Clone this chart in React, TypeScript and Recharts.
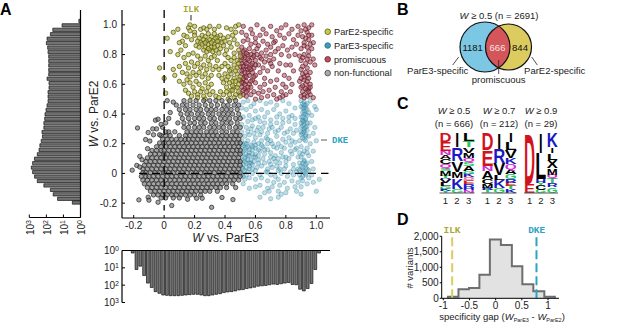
import React from "react";
import {
  Area,
  Bar,
  BarChart,
  ComposedChart,
  ReferenceLine,
  Scatter,
  ScatterChart,
  XAxis,
  YAxis,
} from "recharts";

// panel A, x,y pairs
const yellowPairs = [
  .17,1,.09,.97,.13,.93,.02,.91,.04,.82,.06,.95,.16,.98,.2,.99,.17,.96,.2,.95,.15,.92,.12,.89,.1,.88,.11,.83,.14,.86,.18,.9,
  .24,.97,.26,.98,.28,.97,.3,.99,.33,.97,.36,.99,.41,.98,.44,.97,.47,.99,.49,1,-.03,.71,0,.64,.01,.54,
  .2,.93,.23,.91,.25,.93,.27,.92,.29,.94,.31,.92,.33,.94,.35,.92,.37,.93,.39,.91,.42,.92,.45,.93,.47,.95,
  .22,.89,.24,.88,.26,.9,.28,.89,.3,.9,.32,.89,.34,.91,.36,.89,.38,.88,.4,.89,.43,.88,.46,.9,.48,.87,
  .21,.86,.23,.85,.25,.87,.27,.85,.29,.87,.31,.85,.33,.87,.35,.86,.37,.84,.39,.86,.41,.83,.44,.85,
  .26,.83,.28,.82,.3,.83,.32,.82,.34,.83,.36,.81,.4,.8,.46,.81,.49,.83,.29,.84,.33,.85,.27,.88,.31,.88,.35,.89,
  .09,.8,.13,.78,.16,.8,.19,.81,.22,.79,.24,.77,.27,.79,.29,.76,.31,.78,.33,.79,.35,.76,.42,.78,.44,.76,.46,.78,.48,.76,.5,.79,
  .06,.7,.07,.66,.1,.72,.12,.68,.14,.74,.16,.71,.18,.75,.2,.72,.22,.74,.24,.71,.26,.73,.28,.7,.3,.73,.32,.7,.34,.72,.36,.7,.38,.72,.4,.74,.42,.72,.44,.7,.46,.73,.48,.71,.49,.74,
  .15,.67,.17,.65,.19,.68,.21,.66,.23,.68,.25,.65,.27,.67,.29,.64,.31,.66,.36,.66,.38,.64,.4,.67,.42,.65,.44,.67,.46,.64,.48,.67,.5,.65,
  .43,.69,.47,.69,.45,.62,.41,.63,.49,.63,.44,.56,.46,.58,.48,.58,
  .1,.62,.13,.6,.15,.63,.17,.61,.19,.58,.21,.62,.23,.6,.25,.57,.27,.61,.29,.58,.31,.6,.39,.61,.41,.58,.43,.61,.45,.59,.47,.62,.49,.6,
  .14,.56,.16,.54,.18,.52,.2,.55,.22,.53,.24,.55,.26,.52,.28,.55,.3,.53,.32,.55,.34,.52,.37,.55,.39,.53,.41,.55,.43,.53,.45,.56,.47,.53,.49,.55,.5,.52,.46,.51,.42,.5,.36,.51,.27,.5,.22,.51,
];

const redPairs = [
  .52,.99,.57,.97,.61,1,.65,.97,.7,.99,.74,.96,.77,.98,.8,1,.84,.97,.88,.99,.92,1,.95,.98,.97,1,.9,.96,.94,.95,.97,.93,.91,.92,.88,.93,
  .51,.95,.54,.93,.58,.94,.6,.91,.63,.93,.67,.94,.71,.92,.73,.89,.76,.93,.79,.91,.82,.94,.85,.9,.87,.87,.92,.88,.95,.9,.98,.88,
  .52,.89,.55,.9,.57,.87,.6,.88,.62,.86,.65,.89,.68,.87,.7,.85,.72,.88,.75,.84,.78,.86,.81,.83,.84,.85,.9,.84,.94,.85,.97,.84,
  .51,.85,.53,.83,.56,.84,.59,.82,.61,.84,.64,.81,.67,.83,.7,.8,.73,.82,.77,.8,.82,.79,.86,.8,.89,.79,.92,.8,.95,.79,.98,.77,
  .5,.81,.52,.79,.55,.8,.58,.78,.6,.76,.63,.78,.66,.75,.69,.76,.72,.77,.76,.74,.8,.73,.9,.76,.93,.74,.96,.75,.99,.73,
  .5,.76,.53,.75,.56,.76,.54,.72,.57,.73,.59,.71,.62,.73,.65,.71,.68,.69,.71,.72,.75,.69,.79,.66,.83,.73,.85,.69,.9,.7,.94,.71,
  .5,.72,.52,.7,.55,.68,.51,.67,.53,.65,.56,.66,.58,.68,.6,.66,.63,.68,.66,.64,.7,.62,.74,.63,.78,.6,.82,.64,.91,.67,.94,.66,.96,.68,
  .5,.63,.52,.61,.54,.62,.56,.6,.58,.63,.6,.61,.63,.58,.66,.6,.69,.56,.73,.58,.77,.55,.8,.58,.84,.6,.89,.62,.92,.63,.95,.64,
  .51,.58,.53,.57,.55,.56,.57,.58,.59,.55,.62,.54,.65,.55,.68,.52,.72,.53,.76,.51,.8,.53,.83,.55,.9,.58,.93,.6,.96,.6,.91,.55,.94,.56,
  .5,.54,.52,.53,.54,.52,.57,.53,.6,.5,.64,.51,.74,.5,.78,.52,.9,.52,.92,.51,.94,.52,.96,.53,.95,.57,.98,.51,
  .51,.74,.52,.72,.54,.74,.51,.69,.53,.68,.55,.7,.57,.7,.52,.64,.54,.65,.51,.61,.53,.6,.55,.58,.52,.56,.54,.55,.57,.62,.59,.65,.56,.71,.58,.74,.6,.73,
  .53,.78,.55,.77,.51,.78,.52,.82,.54,.81,.57,.8,.59,.79,.61,.8,.64,.77,.67,.79,.7,.74,
  .91,.72,.93,.68,.92,.65,.94,.62,.91,.59,.93,.57,.95,.55,.92,.53,.9,.64,.96,.58,
  .93,.97,.95,.93,.93,.91,.96,.87,.92,.86,.95,.82,.91,.78,.94,.77,
];

const tealPairs = [
  .52,.48,.55,.49,.59,.47,.63,.49,.67,.47,.7,.48,.74,.46,.78,.49,.82,.47,.86,.44,.9,.49,.92,.48,.94,.47,.96,.49,.99,.45,1,.43,
  .51,.44,.54,.43,.57,.45,.6,.42,.64,.43,.68,.41,.72,.43,.76,.4,.8,.42,.84,.39,.9,.45,.92,.44,.94,.43,.91,.41,.93,.4,.95,.41,.97,.39,
  .52,.38,.56,.39,.6,.37,.63,.35,.66,.38,.7,.36,.74,.34,.78,.37,.82,.35,.86,.33,.9,.38,.91,.36,.93,.36,.92,.33,.94,.32,.9,.31,.96,.34,.99,.31,
  .51,.33,.54,.31,.58,.32,.61,.29,.65,.31,.69,.3,.73,.28,.77,.31,.81,.28,.85,.27,.9,.28,.92,.29,.93,.26,.91,.24,.95,.25,.98,.27,1,.22,
  .51,.28,.53,.25,.56,.26,.6,.24,.63,.26,.67,.24,.7,.22,.74,.25,.78,.23,.82,.24,.86,.21,.89,.22,.93,.22,.96,.2,
  .51,.22,.53,.2,.55,.22,.57,.19,.59,.21,.62,.2,.65,.18,.68,.2,.72,.18,.75,.2,.79,.17,.83,.19,.86,.16,.9,.18,.94,.17,.98,.15,
  .51,.18,.52,.15,.54,.17,.56,.14,.58,.16,.6,.13,.63,.15,.66,.13,.7,.14,.73,.12,.77,.14,.8,.11,.84,.13,.88,.11,.91,.13,.95,.12,
  .51,.13,.53,.11,.55,.12,.57,.09,.59,.11,.62,.09,.65,.1,.69,.08,.72,.1,.76,.07,.8,.08,.85,.06,.89,.07,.92,.09,.94,.07,.97,.08,
  .51,.09,.52,.06,.54,.07,.56,.05,.58,.06,.61,.04,.64,.05,.68,.03,.71,.04,.75,.02,.79,.03,.83,.01,.88,.03,.9,.05,.91,.02,.93,.04,.95,.02,.98,.03,
  .51,.04,.53,.02,.55,.01,.58,0,.6,.02,.63,-.01,.67,.01,.7,-.01,.73,-.02,.77,0,.81,-.02,.85,-.01,.89,-.01,.91,-.02,.93,0,.95,-.03,.97,-.01,
  .51,-.01,.53,-.04,.56,-.03,.6,-.04,.64,-.03,.68,-.05,.72,-.06,.75,-.04,.79,-.06,.84,-.05,.88,-.06,.91,-.05,.94,-.07,.98,-.06,1.02,-.04,
  .52,-.07,.56,-.1,.6,-.09,.63,-.08,.68,-.1,.71,-.09,.76,-.08,.81,-.1,.86,-.09,.9,-.09,.69,-.12,.66,-.13,.75,-.12,.8,-.13,.87,-.12,
  .63,-.16,.7,-.17,.75,-.16,.77,-.14,1,-.12,.9,-.14,
  // dark column near x = 0.92 and band along x = 0.55
  .91,.47,.93,.46,.92,.42,.94,.39,.91,.38,.93,.37,.92,.35,.94,.34,.9,.34,.91,.32,.93,.31,.92,.3,.94,.29,.91,.27,.93,.25,.92,.23,.9,.26,.92,.4,.93,.44,.92,.46,.91,.44,.91,.35,.92,.28,
  .92,.08,.93,.06,.91,.04,.92,.01,.93,-.01,.9,-.03,.89,.02,.94,.03,.91,.07,.9,.11,.92,.15,.94,.14,
  .52,.19,.54,.2,.55,.18,.53,.16,.56,.16,.58,.18,.6,.17,.62,.16,.54,.13,.56,.12,.58,.13,.6,.11,.62,.12,.53,.1,.55,.09,.57,.07,.59,.08,.62,.07,.53,.08,.52,.03,.54,.04,.56,.03,.58,.03,.52,-.02,.54,-.01,.56,.07,.6,.19,.64,.19,.66,.16,.68,.16,.7,.11,.66,.07,.7,.06,.73,.08,.75,.1,.78,.11,.82,.1,
  .55,.28,.57,.3,.59,.27,.62,.31,.64,.28,.68,.27,.71,.31,.75,.29,.79,.27,.83,.3,.87,.29,.55,.35,.58,.36,.62,.38,.66,.34,.7,.33,.74,.38,.78,.34,.82,.38,.86,.37,
  .64,.22,.68,.23,.71,.2,.74,.17,.77,.18,.8,.21,.84,.22,.87,.17,.89,.14,.83,.15,.76,.03,.8,.05,.85,.03,.87,.01,.74,.05,.68,.01,
];

// gray cloud, one row per y level
const grayRows: [number, number[]][] = [
  [.49, [.13,.17,.21,.26,.3,.34,.38,.43,.47]],
  [.46, [.08,.12,.15,.19,.23,.27,.31,.35,.39,.42,.46,.49]],
  [.43, [.1,.14,.17,.21,.24,.28,.31,.34,.38,.41,.44,.48]],
  [.4, [.11,.15,.18,.22,.25,.29,.32,.36,.39,.42,.45,.49]],
  [.37, [.03,.12,.16,.2,.23,.26,.3,.33,.37,.4,.43,.47,.5]],
  [.34, [.01,.09,.13,.17,.2,.24,.27,.31,.34,.38,.41,.44,.48]],
  [.31, [-.01,.13,.16,.2,.23,.26,.3,.33,.36,.39,.43,.47,.5]],
  [.28, [.03,.07,.15,.18,.21,.24,.28,.31,.34,.38,.41,.45,.48]],
  [.255, [-.02,.01,.04,.1,.14,.17,.2,.23,.26,.29,.32,.35,.38,.41,.44,.47,.5]],
  [.23, [-.01,.02,.05,.08,.11,.14,.16,.19,.22,.25,.28,.31,.34,.37,.4,.43,.46,.49]],
  [.205, [-.03,0,.03,.06,.09,.12,.15,.18,.21,.24,.27,.3,.33,.36,.39,.42,.45,.48,.5]],
  [.18, [-.05,-.02,.01,.04,.07,.1,.13,.16,.19,.22,.25,.28,.31,.34,.37,.4,.43,.46,.49]],
  [.155, [-.08,-.05,-.02,0,.03,.06,.09,.12,.15,.18,.21,.24,.27,.3,.33,.36,.39,.42,.45,.48,.5]],
  [.13, [-.09,-.06,-.03,0,.02,.05,.08,.11,.14,.17,.2,.23,.26,.29,.32,.35,.38,.41,.44,.47,.5]],
  [.105, [-.11,-.08,-.05,-.02,.01,.04,.07,.1,.13,.16,.19,.22,.25,.28,.31,.34,.37,.4,.43,.46,.49]],
  [.08, [-.12,-.09,-.06,-.03,0,.03,.06,.09,.12,.15,.18,.21,.24,.27,.3,.33,.36,.39,.42,.45,.48,.5]],
  [.055, [-.13,-.1,-.07,-.04,-.01,.02,.05,.08,.11,.14,.17,.2,.23,.26,.29,.32,.35,.38,.41,.44,.47,.5]],
  [.03, [-.14,-.11,-.08,-.05,-.02,.01,.04,.07,.1,.13,.16,.19,.22,.25,.28,.31,.34,.37,.4,.43,.46,.49]],
  [.005, [-.14,-.12,-.09,-.06,-.03,0,.03,.06,.09,.12,.15,.18,.21,.24,.27,.3,.33,.36,.39,.42,.45,.48,.5]],
  [-.02, [-.15,-.12,-.1,-.07,-.04,-.01,.02,.05,.08,.11,.14,.17,.2,.23,.26,.29,.32,.35,.38,.41,.44,.47,.5]],
  [-.045, [-.14,-.11,-.08,-.05,-.02,.01,.04,.07,.1,.13,.16,.19,.22,.25,.28,.31,.34,.37,.4,.43,.46,.49]],
  [-.07, [-.13,-.1,-.07,-.04,-.01,.02,.05,.08,.11,.14,.17,.2,.23,.26,.29,.32,.35,.38,.41,.45]],
  [-.095, [-.11,-.08,-.05,-.02,.01,.04,.07,.1,.13,.16,.19,.22,.25,.28,.31,.34,.37,.41,.47]],
  [-.12, [-.09,-.06,-.03,0,.03,.06,.09,.12,.15,.18,.21,.24,.27,.3,.35]],
  [-.145, [-.07,-.04,-.01,.02,.05,.08,.11,.14,.17,.2,.24]],
  [-.165, [-.02,.01,.06,.1]],
];

const grayOutlierPairs = [
  -.175,.306,-.105,.275,-.122,.228,-.094,.218,-.109,.167,-.16,.115,-.145,.092,-.21,.022,-.18,.054,-.16,.043,
  -.166,-.178,-.105,-.16,-.1,-.18,-.04,-.194,.05,-.216,.154,-.174,.213,-.167,.25,-.167,.312,-.228,.38,-.162,.452,-.176,
  -.057,.358,-.04,.365,-.05,.3,-.075,.3,-.02,.33,-.03,.26,-.07,.26,.01,.28,.04,.41,.02,.49,.06,.48,
];

const scatterXTicks = [-.2, 0, .2, .4, .6, .8, 1];
const scatterYTicks = [-.2, 0, .2, .4, .6, .8, 1];
const legendNames = ["ParE2-specific", "ParE3-specific", "promiscuous", "non-functional"];

const logTicks = [1, 10, 100, 1000];

// marginal histograms
const pare2Bins = [
  1.025,.995,.965,.935,.905,.875,.845,.815,.785,.755,.725,.695,.665,.635,.605,.575,.545,.515,.485,.455,.425,.395,.365,
  .335,.305,.275,.245,.215,.185,.155,.125,.095,.065,.035,.005,-.025,-.055,-.085,-.115,-.145,-.175,-.2,
];
const pare2Counts = [
  1.25,12,42,58,91,100,84,80,73,73,73,73,73,91,70,70,80,80,80,91,105,120,125,
  140,140,180,170,200,240,270,340,500,640,760,640,490,340,140,58,40,22,3,
];
const pare3Bins = [
  -.21,-.185,-.16,-.135,-.11,-.085,-.06,-.035,-.01,.015,.04,.065,.09,.115,.14,.165,.19,.215,.24,.265,.29,.315,.34,.365,.39,
  .415,.44,.465,.49,.515,.54,.565,.59,.615,.64,.665,.69,.715,.74,.765,.79,.815,.84,.865,.89,.915,.94,.965,.99,1.015,
];
const pare3Counts = [
  1.4,12.5,8,28,76,137,236,296,370,387,405,405,405,387,370,352,337,337,370,405,405,370,337,309,269,
  247,236,215,188,180,157,144,131,114,109,104,95,87,91,83,76,70,91,95,172,215,157,80,12.5,1.4,
];

// panel B
const vennLabels = { left: 1181, middle: 666, right: 844 };
const vennSets = [
  { name: "ParE3", at: 25, level: 25, radius: 25, color: "#7cc8e4" },
  { name: "ParE2", at: 48.5, level: 25, radius: 23, color: "#dccb5e" },
];
const vennOverlap = [{ name: "both", at: 48.5, level: 25, radius: 23, color: "#d4555a" }];

// panel C, read from top of stack to bottom; heights in parts of 180
const logoLetters = [
  [
    ["D","E","N","A","C","Q","S","M","T","R","V","L","G","K","Y"],
    ["I","R","V","M","K","G"],
    ["L","T","V","M","Q","S","A","G","K","P","E","R","H","N"],
  ],
  [
    ["D","E","N","A","C","M","R","T","Y"],
    ["I","R","V","L","K","G"],
    ["I","L","V","K","Q","A","G","R","E","T","K"],
  ],
  [
    ["D","E"],
    ["I","L","H","Y","C","G"],
    ["K","I","L","X","M","Q","T","R","G"],
  ],
];
const logoHeights = [
  [
    [27,26,14,12,14,13,8,14,6,5,10,10,8,6,7],
    [43,40,33,20,32,12],
    [23,20,17,15,13,10,16,8,10,12,10,10,8,8],
  ],
  [
    [50,48,17,22,17,10,6,6,4],
    [48,42,35,15,25,15],
    [27,25,22,20,15,15,15,10,10,10,11],
  ],
  [
    [152,28],
    [60,78,12,6,14,10],
    [43,17,20,25,20,10,15,13,17],
  ],
];
const logoPositions = [1, 2, 3];

// panel D
const gapEdges = [-.91,-.91,-.71,-.51,-.31,-.11,.1,.31,.51,.72,.93,1.13,1.13];
const gapCounts = [0,50,290,330,760,1900,1720,1030,450,230,50,0,0];
const gapXTicks = [-1, -.5, 0, .5, 1];
const gapYTicks = [0, 500, 1000, 1500, 2000];
const ilkGap = -.83;
const dkeGap = .78;

const toPoints = (pairs: number[]) => {
  const out: { x: number; y: number }[] = [];
  for (let i = 0; i < pairs.length; i += 2) out.push({ x: pairs[i], y: pairs[i + 1] });
  return out;
};

const yellowPoints = toPoints(yellowPairs);
const redPoints = toPoints(redPairs);
const tealPoints = toPoints(tealPairs);
const grayPoints = [
  ...grayRows.flatMap(([y, xs]) => xs.map((x) => ({ x, y }))),
  ...toPoints(grayOutlierPairs),
];

const pare2Data = pare2Bins.map((bin, i) => ({ bin, count: pare2Counts[i] }));
const pare3Data = pare3Bins.map((bin, i) => ({ bin, count: pare3Counts[i] }));
const gapData = gapEdges.map((edge, i) => ({ edge, count: gapCounts[i] }));

const letterColors: Record<string, string> = {
  D: "#d3121f", E: "#d3121f", K: "#1a1ac4", R: "#1a1ac4", H: "#1a1ac4",
  N: "#d52bd5", Q: "#d52bd5", S: "#26c95a", T: "#26c95a", G: "#26c95a", Y: "#26c95a", P: "#e9879a",
};
const letterWidths: Record<string, number> = {
  A: .722, C: .722, D: .722, E: .667, G: .778, H: .722, I: .278, K: .722, L: .611, M: .833, N: .722,
  P: .667, Q: .778, R: .722, S: .667, T: .611, V: .667, X: .667, Y: .667,
};

const sans = "'Liberation Sans', Arial, sans-serif";
const mono = "'Liberation Mono', monospace";
const W = 617;
const H = 325;
const layer: React.CSSProperties = { position: "absolute", left: 0, top: 0 };

const fmtTick = (v: number) => (v === 0 ? "0" : v.toFixed(1));

const ScatterBottomTick = ({ x, y, payload }: any) => (
  <g>
    <line x1={x} x2={x} y1={y} y2={y - 3} stroke="#000" />
    <text x={x} y={y + 11} textAnchor="middle" fontSize={10} fill="#222">{fmtTick(payload.value)}</text>
  </g>
);
const ScatterLeftTick = ({ x, y, payload }: any) => (
  <g>
    <line x1={x} x2={x + 3} y1={y} y2={y} stroke="#000" />
    <text x={x - 5} y={y + 3.5} textAnchor="end" fontSize={10} fill="#222">{fmtTick(payload.value)}</text>
  </g>
);
const LogBottomTick = ({ x, y, payload }: any) => (
  <g>
    <line x1={x} x2={x} y1={y} y2={y - 3} stroke="#000" />
    <text transform={`translate(${x + 4.5},235) rotate(-90)`} fontSize={10} fill="#222">
      10<tspan dy={-3} fontSize={7}>{Math.round(Math.log10(payload.value))}</tspan>
    </text>
  </g>
);
const LogLeftTick = ({ x, y, payload }: any) => (
  <g>
    <line x1={x} x2={x + 3} y1={y} y2={y} stroke="#000" />
    <text x={x - 3} y={y + 3.5} textAnchor="end" fontSize={10} fill="#222">
      10<tspan dy={-3} fontSize={7}>{Math.round(Math.log10(payload.value))}</tspan>
    </text>
  </g>
);
const GapLeftTick = ({ x, y, payload }: any) => (
  <g>
    <line x1={x} x2={x - 2} y1={y} y2={y} stroke="#000" />
    <text x={x - 3} y={y + 3.5} textAnchor="end" fontSize={10} fill="#222">{payload.value.toLocaleString("en-US")}</text>
  </g>
);
const GapBottomTick = ({ x, y, payload }: any) => (
  <g>
    <line x1={x} x2={x} y1={y} y2={y + 2} stroke="#000" />
    <text x={x} y={y + 11} textAnchor="middle" fontSize={10} fill="#222">{payload.value}</text>
  </g>
);

const dot = (fill: string, fillOpacity: number, stroke: string, strokeOpacity: number) => (p: any) => (
  <circle cx={p.cx} cy={p.cy} r={2.2} fill={fill} fillOpacity={fillOpacity} stroke={stroke} strokeOpacity={strokeOpacity} strokeWidth={0.8} />
);

function PanelAScatter() {
  return (
    <ScatterChart width={W} height={H} style={layer} margin={{ left: 121, top: 10, right: W - 330, bottom: H - 219 }}>
      <XAxis type="number" dataKey="x" domain={[-.277, 1.09]} ticks={scatterXTicks} interval={0} height={1} tickSize={0} tickMargin={0} tickLine={false} allowDataOverflow tick={ScatterBottomTick} stroke="#000" strokeWidth={1.2} />
      <YAxis type="number" dataKey="y" domain={[-.3, 1.1]} ticks={scatterYTicks} interval={0} width={1} tickSize={0} tickMargin={0} tickLine={false} allowDataOverflow tick={ScatterLeftTick} stroke="#000" strokeWidth={1.2} />
      <Scatter data={tealPoints} isAnimationActive={false} shape={dot("#4b9fb8", .35, "#2c7f98", .38)} />
      <Scatter data={redPoints} isAnimationActive={false} shape={dot("#a84a58", .55, "#5e1826", .8)} />
      <Scatter data={yellowPoints} isAnimationActive={false} shape={dot("#b9b948", .65, "#5a5a10", .95)} />
      <Scatter data={grayPoints} isAnimationActive={false} shape={dot("#6a6a6a", .6, "#1c1c1c", .85)} />
    </ScatterChart>
  );
}

// the dashed zero lines sit above the dots, so they get a chart layer of their own
function PanelAGuides() {
  return (
    <ScatterChart width={W} height={H} style={layer} margin={{ left: 122, top: 10, right: W - 330, bottom: H - 218 }}>
      <XAxis type="number" dataKey="x" domain={[-.277, 1.09]} hide allowDataOverflow />
      <YAxis type="number" dataKey="y" domain={[-.3, 1.1]} hide allowDataOverflow />
      <Scatter data={[]} isAnimationActive={false} />
      <ReferenceLine stroke="#000" strokeWidth={1.3} strokeDasharray="8 5" segment={[{ x: 0, y: 1.1 }, { x: 0, y: -.25 }]} />
      <ReferenceLine stroke="#000" strokeWidth={1.3} strokeDasharray="8 5" segment={[{ x: -.165, y: 0 }, { x: 1.08, y: 0 }]} />
    </ScatterChart>
  );
}

function PanelAHistograms() {
  return (
    <>
      <BarChart width={W} height={H} style={layer} layout="vertical" data={pare2Data} margin={{ left: 29.3, top: 10, right: W - 81.5, bottom: H - 218.5 }}>
        <XAxis type="number" dataKey="count" scale="log" domain={[1, 1000]} reversed ticks={logTicks} interval={0} height={1} tickSize={0} tickMargin={0} tickLine={false} allowDataOverflow tick={LogBottomTick} stroke="#000" />
        <YAxis type="number" dataKey="bin" orientation="right" domain={[-.3, 1.1]} width={1} tick={false} tickLine={false} allowDataOverflow reversed stroke="#000" strokeWidth={1.2} />
        <Bar dataKey="count" fill="#737373" stroke="#111" strokeWidth={0.7} barSize={3.3} isAnimationActive={false} />
      </BarChart>
      <BarChart width={W} height={H} style={layer} data={pare3Data} margin={{ left: 121, top: 249.5, right: W - 330, bottom: H - 302.5 }}>
        <XAxis type="number" dataKey="bin" orientation="top" domain={[-.277, 1.09]} height={1} tick={false} tickLine={false} allowDataOverflow stroke="#000" strokeWidth={1.2} />
        <YAxis type="number" scale="log" domain={[1, 1000]} reversed ticks={logTicks} interval={0} width={1} tickSize={0} tickMargin={0} tickLine={false} allowDataOverflow tick={LogLeftTick} stroke="#000" strokeWidth={1.2} />
        <Bar dataKey="count" fill="#737373" stroke="#111" strokeWidth={0.7} barSize={2.8} isAnimationActive={false} />
      </BarChart>
    </>
  );
}

function VennDisc(p: any) {
  const s = p.payload;
  return <circle cx={p.cx} cy={p.cy} r={s.radius} fill={s.color} />;
}
function VennOutline(p: any) {
  return <circle cx={p.cx} cy={p.cy} r={p.payload.radius} fill="none" stroke="#111" strokeWidth={1.2} />;
}
function VennLens(p: any) {
  const s = p.payload;
  const left = vennSets[0];
  const dx = left.at - s.at;
  return (
    <g>
      <clipPath id="vennLeft">
        <circle cx={p.cx + dx} cy={p.cy} r={left.radius} />
      </clipPath>
      <circle cx={p.cx} cy={p.cy} r={s.radius} fill={s.color} clipPath="url(#vennLeft)" />
    </g>
  );
}

function PanelBVenn() {
  return (
    <ScatterChart width={W} height={H} style={layer} margin={{ left: 460, top: 22, right: W - 540, bottom: H - 72 }}>
      <XAxis type="number" dataKey="at" domain={[0, 80]} hide />
      <YAxis type="number" dataKey="level" domain={[0, 50]} hide />
      <Scatter data={vennSets} isAnimationActive={false} shape={VennDisc} />
      <Scatter data={vennOverlap} isAnimationActive={false} shape={VennLens} />
      <Scatter data={vennSets} isAnimationActive={false} shape={VennOutline} />
    </ScatterChart>
  );
}

function LogoGlyph(p: any) {
  const { x, y, width, height, letter } = p;
  if (!letter || !(height > 0)) return null;
  const thin = letter === "I" ? 0.32 : 1;
  const sx = (width * thin) / (letterWidths[letter] * 10);
  const sy = height / 7.16;
  return (
    <text
      transform={`translate(${x + width / 2},${y + height}) scale(${sx},${sy})`}
      textAnchor="middle"
      fontSize={10}
      fontWeight="bold"
      fill={letterColors[letter] ?? "#000"}
    >
      {letter}
    </text>
  );
}

const LogoTick = ({ x, y, payload }: any) => (
  <text x={x} y={y + 11} textAnchor="middle" fontSize={9.5} fill="#222">{payload.value}</text>
);

function Logo({ index, left, right }: { index: number; left: number; right: number }) {
  // Recharts stacks upward, so the top-down lists are read backward
  const stacks = logoHeights[index].map((col) => [...col].reverse());
  const letters = logoLetters[index].map((col) => [...col].reverse());
  const slots = Math.max(...stacks.map((s) => s.length));
  const rows = logoPositions.map((pos, c) => {
    const row: Record<string, number> = { pos };
    stacks[c].forEach((h, s) => (row["s" + s] = h));
    return row;
  });
  return (
    <BarChart width={W} height={H} style={layer} data={rows} barCategoryGap={0} margin={{ left, top: 133, right: W - right, bottom: H - 194 }}>
      <XAxis dataKey="pos" height={1} tickSize={0} tickMargin={0} tickLine={false} interval={0} tick={LogoTick} stroke="#555" strokeWidth={1.2} />
      <YAxis type="number" domain={[0, 180]} hide />
      {Array.from({ length: slots }, (_, s) => (
        <Bar
          key={s}
          dataKey={"s" + s}
          stackId="logo"
          isAnimationActive={false}
          shape={(p: any) => <LogoGlyph {...p} letter={letters[p.index]?.[s]} />}
        />
      ))}
    </BarChart>
  );
}

function PanelDGap() {
  return (
    <ComposedChart width={W} height={H} style={layer} data={gapData} margin={{ left: 440.7, top: 236.3, right: W - 559, bottom: H - 299.3 }}>
      <XAxis type="number" dataKey="edge" domain={[-1.03, 1.21]} ticks={gapXTicks} interval={0} height={1} tickSize={0} tickMargin={0} tickLine={false} allowDataOverflow tick={GapBottomTick} stroke="#000" />
      <YAxis type="number" domain={[0, 2000]} ticks={gapYTicks} interval={0} width={1} tickSize={0} tickMargin={0} tickLine={false} tick={GapLeftTick} stroke="#000" />
      <Area type="stepAfter" dataKey="count" isAnimationActive={false} fill="#e2e2e2" fillOpacity={1} stroke="#6e6e6e" strokeWidth={2} dot={false} />
      <ReferenceLine x={ilkGap} stroke="#d8cf5e" strokeWidth={2} strokeDasharray="9 4" />
      <ReferenceLine x={dkeGap} stroke="#2fa3c4" strokeWidth={2} strokeDasharray="9 4" />
    </ComposedChart>
  );
}

function Annotations() {
  const legendStyles = [
    ["#c8c84a", "#5d5d12"],
    ["#3f9cb8", "#1f6f88"],
    ["#b8505e", "#6d2330"],
    ["#aaaaaa", "#444444"],
  ];
  return (
    <svg width={W} height={H} style={layer} fontFamily={sans} fill="#222">
      <g fontSize={16} fontWeight="bold" fill="#000">
        <text x={0} y={15}>A</text>
        <text x={397} y={15}>B</text>
        <text x={397} y={109}>C</text>
        <text x={397} y={225}>D</text>
      </g>

      <text transform="translate(98,114) rotate(-90)" textAnchor="middle" fontSize={12}>
        <tspan fontStyle="italic">W</tspan> vs. ParE2
      </text>
      <text x={225.7} y={242} textAnchor="middle" fontSize={12}>
        <tspan fontStyle="italic">W</tspan> vs. ParE3
      </text>

      <text x={191} y={12} textAnchor="middle" fontFamily={mono} fontWeight="bold" fontSize={9} fill="#a8a836">ILK</text>
      <line x1={191} x2={191} y1={15} y2={20.5} stroke="#222" />
      <line x1={321} x2={327} y1={140} y2={140} stroke="#777" strokeWidth={1.2} />
      <text x={332} y={143} fontFamily={mono} fontWeight="bold" fontSize={9} fill="#2fa3c4">DKE</text>

      {legendNames.map((name, i) => (
        <g key={name}>
          <circle cx={327.7} cy={31.7 + i * 13.8} r={2.8} fill={legendStyles[i][0]} stroke={legendStyles[i][1]} strokeWidth={0.8} />
          <text x={334} y={35 + i * 13.8} fontSize={9.2}>{name}</text>
        </g>
      ))}

      <text x={499} y={19} textAnchor="middle" fontSize={9.5}>
        <tspan fontStyle="italic">W</tspan> ≥ 0.5 (n = 2691)
      </text>
      <text x={472.7} y={51} textAnchor="middle" fontSize={9.5} fill="#111">{vennLabels.left}</text>
      <text x={497.5} y={51} textAnchor="middle" fontSize={9.5} fill="#f6e6e6">{vennLabels.middle}</text>
      <text x={520} y={51} textAnchor="middle" fontSize={9.5} fill="#111">{vennLabels.right}</text>
      <text x={437.7} y={74} textAnchor="middle" fontSize={9.5}>ParE3-specific</text>
      <text x={498.7} y={83} textAnchor="middle" fontSize={9.5}>promiscuous</text>
      <text x={554.7} y={74} textAnchor="middle" fontSize={9.5}>ParE2-specific</text>
      <g stroke="#222" strokeWidth={0.8}>
        <line x1={452.7} y1={65} x2={458.7} y2={57} />
        <line x1={498.7} y1={60} x2={498.7} y2={74} />
        <line x1={531.7} y1={57} x2={537.3} y2={65} />
      </g>

      <g fontSize={9.5} textAnchor="middle">
        <text x={454} y={114}><tspan fontStyle="italic">W</tspan> ≥ 0.5</text>
        <text x={454} y={127}>(n = 666)</text>
        <text x={499} y={114}><tspan fontStyle="italic">W</tspan> ≥ 0.7</text>
        <text x={499} y={127}>(n = 212)</text>
        <text x={541} y={114}><tspan fontStyle="italic">W</tspan> ≥ 0.9</text>
        <text x={541} y={127}>(n = 29)</text>
      </g>

      <text x={452} y={233} textAnchor="middle" fontFamily={mono} fontWeight="bold" fontSize={9.5} fill="#a8a836">ILK</text>
      <text x={536.7} y={233} textAnchor="middle" fontFamily={mono} fontWeight="bold" fontSize={9.5} fill="#2fa3c4">DKE</text>
      <text transform="translate(413,268) rotate(-90)" textAnchor="middle" fontSize={9.5}># variants</text>
      <text x={502} y={320} textAnchor="middle" fontSize={9.5}>
        specificity gap (<tspan fontStyle="italic">W</tspan><tspan fontSize={5.5} dy={2}>ParE3</tspan><tspan dy={-2}> - </tspan><tspan fontStyle="italic">W</tspan><tspan fontSize={5.5} dy={2}>ParE2</tspan><tspan dy={-2}>)</tspan>
      </text>
    </svg>
  );
}

export default function App() {
  return (
    <div style={{ position: "absolute", left: 0, top: 0, width: W, height: H, fontFamily: sans, overflow: "hidden" }}>
      <PanelAHistograms />
      <PanelAScatter />
      <PanelAGuides />
      <PanelBVenn />
      <Logo index={0} left={439.5} right={474.5} />
      <Logo index={1} left={481.5} right={516.5} />
      <Logo index={2} left={524} right={558} />
      <PanelDGap />
      <Annotations />
    </div>
  );
}
